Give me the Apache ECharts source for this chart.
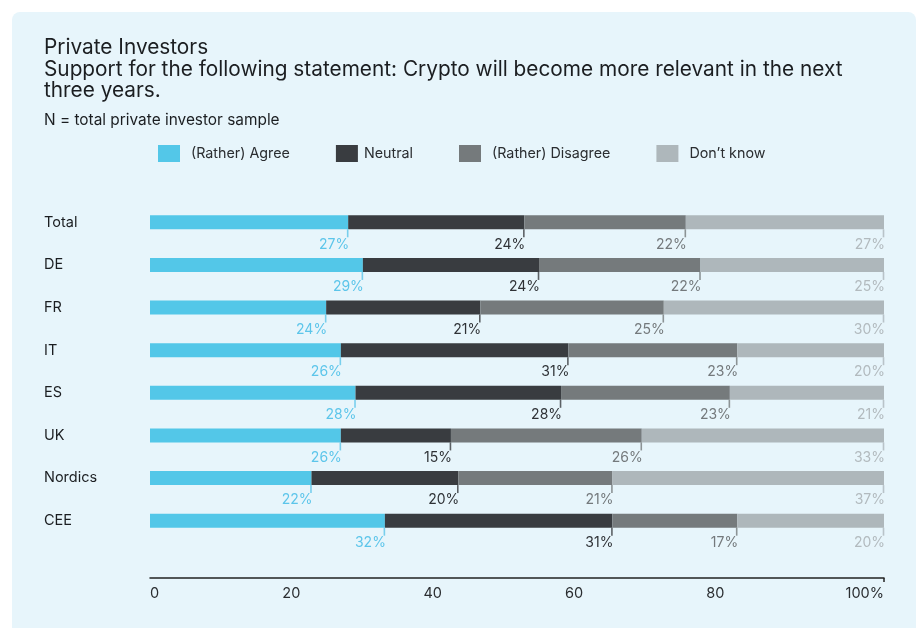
<!DOCTYPE html>
<html>
<head>
<meta charset="utf-8">
<script src="https://cdn.jsdelivr.net/npm/echarts@6/dist/echarts.min.js"></script>
<style>
html,body{margin:0;padding:0;background:#ffffff;}
#chart{width:921px;height:628px;}
</style>
</head>
<body>
<div id="chart"></div>
<script>
const categories = ['Total', 'DE', 'FR', 'IT', 'ES', 'UK', 'Nordics', 'CEE'];
const seriesNames = ['(Rather) Agree', 'Neutral', '(Rather) Disagree', 'Don\u2019t know'];
const agree = [27, 29, 24, 26, 28, 26, 22, 32];
const neutral = [24, 24, 21, 31, 28, 15, 20, 31];
const disagree = [22, 22, 25, 23, 23, 26, 21, 17];
const dontKnow = [27, 25, 30, 20, 21, 33, 37, 20];
const tickValues = [0, 20, 40, 60, 80];
const maxTick = 100;

const values = [agree, neutral, disagree, dontKnow];
const barColors = ['#53c7e8', '#393c40', '#757a7c', '#aeb7bb'];
const labelColors = ['#5cc5ea', '#2f3236', '#74797c', '#b2babe'];
const FONT = 'Inter, "Noto Sans", sans-serif';

const chart = echarts.init(document.getElementById('chart'), null, {renderer: 'canvas'});

const series = [];
values.forEach((vals, i) => {
  series.push({
    name: seriesNames[i],
    type: 'bar',
    stack: 'all',
    barWidth: 14,
    xAxisIndex: 0,
    data: vals,
    itemStyle: {color: barColors[i]},
    label: {
      show: true,
      position: ['100%', '100%'],
      align: 'right',
      verticalAlign: 'middle',
      offset: [1, 15],
      formatter: p => p.value + '%',
      color: labelColors[i],
      fontFamily: FONT,
      fontSize: 14
    },
    emphasis: {disabled: true}
  });
});
// tick marks at the end of each segment
values.forEach((vals, i) => {
  const pts = categories.map((c, k) => {
    let cum = 0;
    for (let j = 0; j <= i; j++) cum += values[j][k];
    return [cum, c];
  });
  series.push({
    type: 'scatter',
    xAxisIndex: 0,
    data: pts,
    symbol: 'rect',
    symbolSize: [1.6, 8],
    symbolOffset: [-0.5, 11],
    itemStyle: {color: i === 0 ? '#5cc5ea' : barColors[i]},
    silent: true,
    z: 5
  });
});

const option = {
  backgroundColor: 'transparent',
  animation: false,
  graphic: [{
    type: 'rect',
    left: 12, top: 12, z: -10,
    shape: {width: 904, height: 640, r: 8},
    style: {fill: '#e7f5fb'}
  }],
  title: [{
    text: 'Private Investors\nSupport for the following statement: Crypto will become more relevant in the next\nthree years.',
    left: 44, top: 37, padding: 0,
    textStyle: {fontFamily: FONT, fontSize: 20.8, fontWeight: 400, lineHeight: 21.5, color: '#1b1e21'}
  }, {
    text: 'N = total private investor sample',
    left: 44, top: 112, padding: 0,
    textStyle: {fontFamily: FONT, fontSize: 15.4, fontWeight: 400, lineHeight: 16, color: '#1b1e21'}
  }],
  legend: {
    left: 158, top: 145, padding: 0,
    itemWidth: 22, itemHeight: 17, itemGap: 46,
    icon: 'rect',
    data: seriesNames.map((n, i) => ({
      name: n,
      textStyle: {padding: [0, 0, 0, i === 1 ? 1 : 6]}
    })),
    textStyle: {fontFamily: FONT, fontSize: 14.3, color: '#2a2d30'}
  },
  grid: {left: 150, right: 37, top: 201, height: 341, containLabel: false},
  xAxis: [{
    type: 'value', min: 0, max: 100,
    position: 'bottom', offset: 36,
    axisLine: {show: true, lineStyle: {color: '#222', width: 1.5}},
    axisTick: {show: true, customValues: [maxTick], length: 4, lineStyle: {color: '#222', width: 1.5}},
    axisLabel: {
      show: true, customValues: [maxTick], align: 'right', margin: 8,
      formatter: v => v + '%',
      fontFamily: FONT, fontSize: 14.5, color: '#2a2d30'
    },
    splitLine: {show: false}
  }, {
    type: 'value', min: 0, max: 103.87,
    position: 'bottom', offset: 36,
    axisLine: {show: false},
    axisTick: {show: false},
    axisLabel: {
      show: true, customValues: tickValues, margin: 8,
      alignMinLabel: 'left',
      fontFamily: FONT, fontSize: 14.5, color: '#2a2d30'
    },
    splitLine: {show: false}
  }],
  yAxis: {
    type: 'category', data: categories, inverse: true,
    axisLine: {show: false}, axisTick: {show: false},
    axisLabel: {align: 'left', margin: 106, fontFamily: FONT, fontSize: 14.5, color: '#1b1e21'}
  },
  series: series
};
chart.setOption(option);
</script>
</body>
</html>
